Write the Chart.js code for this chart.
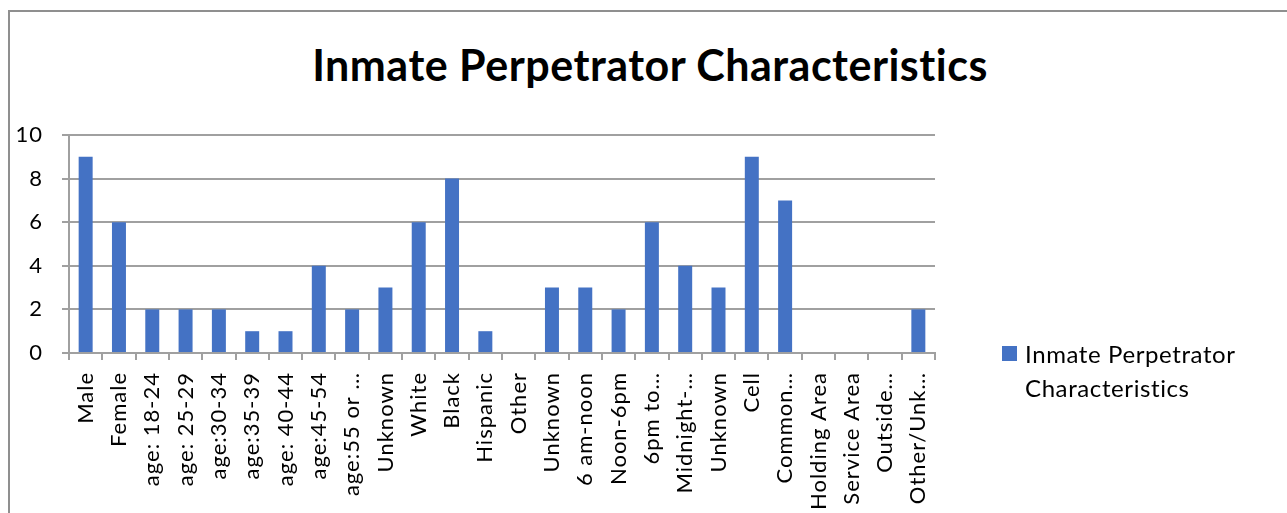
<!DOCTYPE html>
<html>
<head>
<meta charset="utf-8">
<script src="https://cdn.jsdelivr.net/npm/chart.js@4.4.1/dist/chart.umd.min.js"></script>
<style>
  html, body { margin: 0; padding: 0; background: #fff; overflow: hidden; }
  #frame {
    position: absolute; left: 8px; top: 10px; width: 1300px; height: 520px;
    border-left: 2px solid #8f8f8f; border-top: 2px solid #8f8f8f;
  }
  #wrap { position: absolute; left: 11px; top: 13px; width: 1276px; height: 500px; }
  #title {
    position: absolute; left: 0; width: 1300px; top: 39px; text-align: center;
    font-family: Lato, "Liberation Sans", sans-serif; font-weight: bold; font-size: 43px;
    line-height: 52px; letter-spacing: 0.5px; color: #000; white-space: nowrap;
  }
  #legend {
    position: absolute; left: 1002px; top: 341px;
    font-family: Lato, "Liberation Sans", sans-serif; font-size: 24px; color: #000;
    line-height: 34px; letter-spacing: 0.6px;
  }
  #legend .sw { position: absolute; left: 0; top: 5px; width: 15px; height: 15px; background: #4472C4; }
  #legend .tx { position: absolute; left: 23px; top: -4px; white-space: nowrap; }
</style>
</head>
<body>
<div id="frame"></div>
<div id="title">Inmate Perpetrator Characteristics</div>
<div id="wrap"><canvas id="chart" width="1276" height="500"></canvas></div>
<div id="legend"><span class="sw"></span><span class="tx">Inmate Perpetrator<br>Characteristics</span></div>
<script>
// categories as shown (Excel truncates long labels with an ellipsis)
const categories = [
  'Male', 'Female', 'age: 18-24', 'age: 25-29', 'age:30-34', 'age:35-39', 'age: 40-44',
  'age:45-54', 'age:55 or …', 'Unknown', 'White', 'Black', 'Hispanic', 'Other',
  'Unknown', '6 am-noon', 'Noon-6pm', '6pm to…', 'Midnight-…', 'Unknown', 'Cell',
  'Common…', 'Holding Area', 'Service Area', 'Outside…', 'Other/Unk…'
];
const counts = [9, 6, 2, 2, 2, 1, 1, 4, 2, 3, 6, 8, 1, 0, 3, 3, 2, 6, 4, 3, 9, 7, 0, 0, 0, 2];
const yTicks = [0, 2, 4, 6, 8, 10];

const FONT = 'Lato, "Liberation Sans", sans-serif';
const GRID = '#a0a0a0';

// the source text is a bit more spaced out than Lato
const spacing = {
  id: 'spacing',
  beforeDraw(chart) { chart.ctx.letterSpacing = '1px'; }
};

new Chart(document.getElementById('chart'), {
  type: 'bar',
  data: {
    labels: categories,
    datasets: [{
      label: 'Inmate Perpetrator Characteristics',
      data: counts,
      backgroundColor: '#4472C4',
      borderWidth: 0,
      barPercentage: 0.42,
      categoryPercentage: 1.0
    }]
  },
  plugins: [spacing],
  options: {
    responsive: false,
    animation: false,
    layout: { padding: { left: 0, right: 352, top: 122, bottom: 0 } },
    plugins: {
      legend: { display: false },
      tooltip: { enabled: false },
      title: { display: false }
    },
    scales: {
      x: {
        afterFit: (s) => { s.height = 160; },
        grid: { offset: true, drawOnChartArea: false, drawTicks: true, tickLength: 7, color: GRID, lineWidth: 2 },
        border: { color: GRID, width: 2 },
        ticks: {
          color: '#000', font: { family: FONT, size: 22 },
          minRotation: 90, maxRotation: 90, autoSkip: false, padding: 12
        }
      },
      y: {
        min: 0, max: 10,
        afterFit: (s) => { s.width = 58; },
        afterBuildTicks: (s) => { s.ticks = yTicks.map(v => ({ value: v })); },
        grid: { color: GRID, lineWidth: 2, tickLength: 7 },
        border: { color: GRID, width: 2 },
        ticks: { color: '#000', font: { family: FONT, size: 22 }, padding: 19 }
      }
    }
  }
});
</script>
</body>
</html>
